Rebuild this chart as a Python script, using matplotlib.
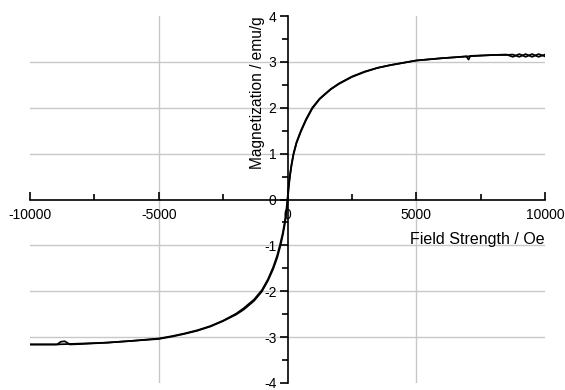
import numpy as np
import matplotlib
matplotlib.use("Agg")
import matplotlib.pyplot as plt
from matplotlib.ticker import MultipleLocator

plt.rcParams['font.family'] = ['Liberation Sans', 'DejaVu Sans']
plt.rcParams['axes.unicode_minus'] = False

# descending branch (+10000 -> -10000 Oe)
h_down = [10000, 9750, 9500, 9250, 9000, 8750, 8500, 8000, 7500, 7100, 7030, 6950,
          6500, 6000, 5000, 4500, 4000, 3500, 3000, 2500, 2000, 1680, 1250, 960, 720,
          520, 350, 233, 150, 93, 50, 0, -50, -110, -180, -280, -400, -560, -760,
          -1000, -1300, -1700, -2000, -2500, -3000, -3500, -4000, -4500, -5000, -6000,
          -7000, -8000, -9000, -10000]
m_down = [3.12, 3.17, 3.11, 3.17, 3.11, 3.16, 3.15, 3.15, 3.14, 3.13, 3.05, 3.12,
          3.10, 3.08, 3.03, 2.98, 2.93, 2.87, 2.79, 2.68, 2.53, 2.41, 2.20, 2.00, 1.75,
          1.50, 1.25, 1.00, 0.75, 0.52, 0.32, 0.02, -0.26, -0.50, -0.72, -0.96, -1.22,
          -1.48, -1.74, -1.98, -2.18, -2.37, -2.49, -2.64, -2.76, -2.85, -2.92, -2.98,
          -3.03, -3.08, -3.12, -3.14, -3.16, -3.16]

# ascending branch (-10000 -> +10000 Oe)
h_up = [-10000, -9500, -8950, -8800, -8650, -8450, -8000, -7000, -6000, -5000, -4500,
        -4000, -3500, -3000, -2500, -2000, -1700, -1300, -1000, -760, -560, -400, -280,
        -180, -110, -50, 0, 50, 93, 150, 233, 350, 520, 720, 960, 1250, 1680, 2000,
        2500, 3000, 3500, 4000, 4500, 5000, 6000, 7000, 8000, 8500, 8750, 9000, 9250,
        9500, 9750, 10000]
m_up = [-3.16, -3.16, -3.16, -3.10, -3.09, -3.16, -3.15, -3.12, -3.08, -3.04, -2.99,
        -2.93, -2.86, -2.77, -2.65, -2.51, -2.40, -2.21, -2.01, -1.77, -1.52, -1.27,
        -1.02, -0.77, -0.55, -0.33, -0.04, 0.28, 0.50, 0.72, 0.98, 1.23, 1.48, 1.73,
        1.98, 2.19, 2.40, 2.52, 2.67, 2.78, 2.87, 2.93, 2.98, 3.03, 3.08, 3.12, 3.15,
        3.16, 3.11, 3.17, 3.11, 3.17, 3.11, 3.16]

x_grid = [-5000, 5000]
y_grid = [-3, -2, -1, 1, 2, 3]

fig = plt.figure(figsize=(5.65, 3.9), dpi=100)
ax = fig.add_axes([30 / 565, 7 / 390, 515 / 565, 367 / 390])

for g in x_grid:
    ax.axvline(g, color='#c8c8c8', lw=1, zorder=0)
for g in y_grid:
    ax.axhline(g, color='#c8c8c8', lw=1, zorder=0)

ax.plot(h_down, m_down, color='black', lw=1.25)
ax.plot(h_up, m_up, color='black', lw=1.25)

ax.set_xlim(-10000, 10000)
ax.set_ylim(-4, 4)
ax.spines['left'].set_position(('data', 0))
ax.spines['bottom'].set_position(('data', 0))
ax.spines['top'].set_visible(False)
ax.spines['right'].set_visible(False)
ax.spines['left'].set_linewidth(1.2)
ax.spines['bottom'].set_linewidth(1.2)

ax.xaxis.set_major_locator(MultipleLocator(5000))
ax.xaxis.set_minor_locator(MultipleLocator(2500))
ax.yaxis.set_major_locator(MultipleLocator(1))
ax.yaxis.set_minor_locator(MultipleLocator(0.5))
ax.tick_params(axis='x', which='both', direction='in', labelsize=10, pad=6)
ax.tick_params(axis='y', which='both', direction='out', labelsize=10, pad=2)
ax.tick_params(which='major', length=6, width=1.2)
ax.tick_params(which='minor', length=4, width=1.2)

ax.text(0.442, 0.79, 'Magnetization / emu/g', transform=ax.transAxes,
        rotation=90, ha='center', va='center', fontsize=11.2)
ax.text(1.0, 0.391, 'Field Strength / Oe', transform=ax.transAxes,
        ha='right', va='center', fontsize=11.5)

fig.savefig('out.png', dpi=100)
